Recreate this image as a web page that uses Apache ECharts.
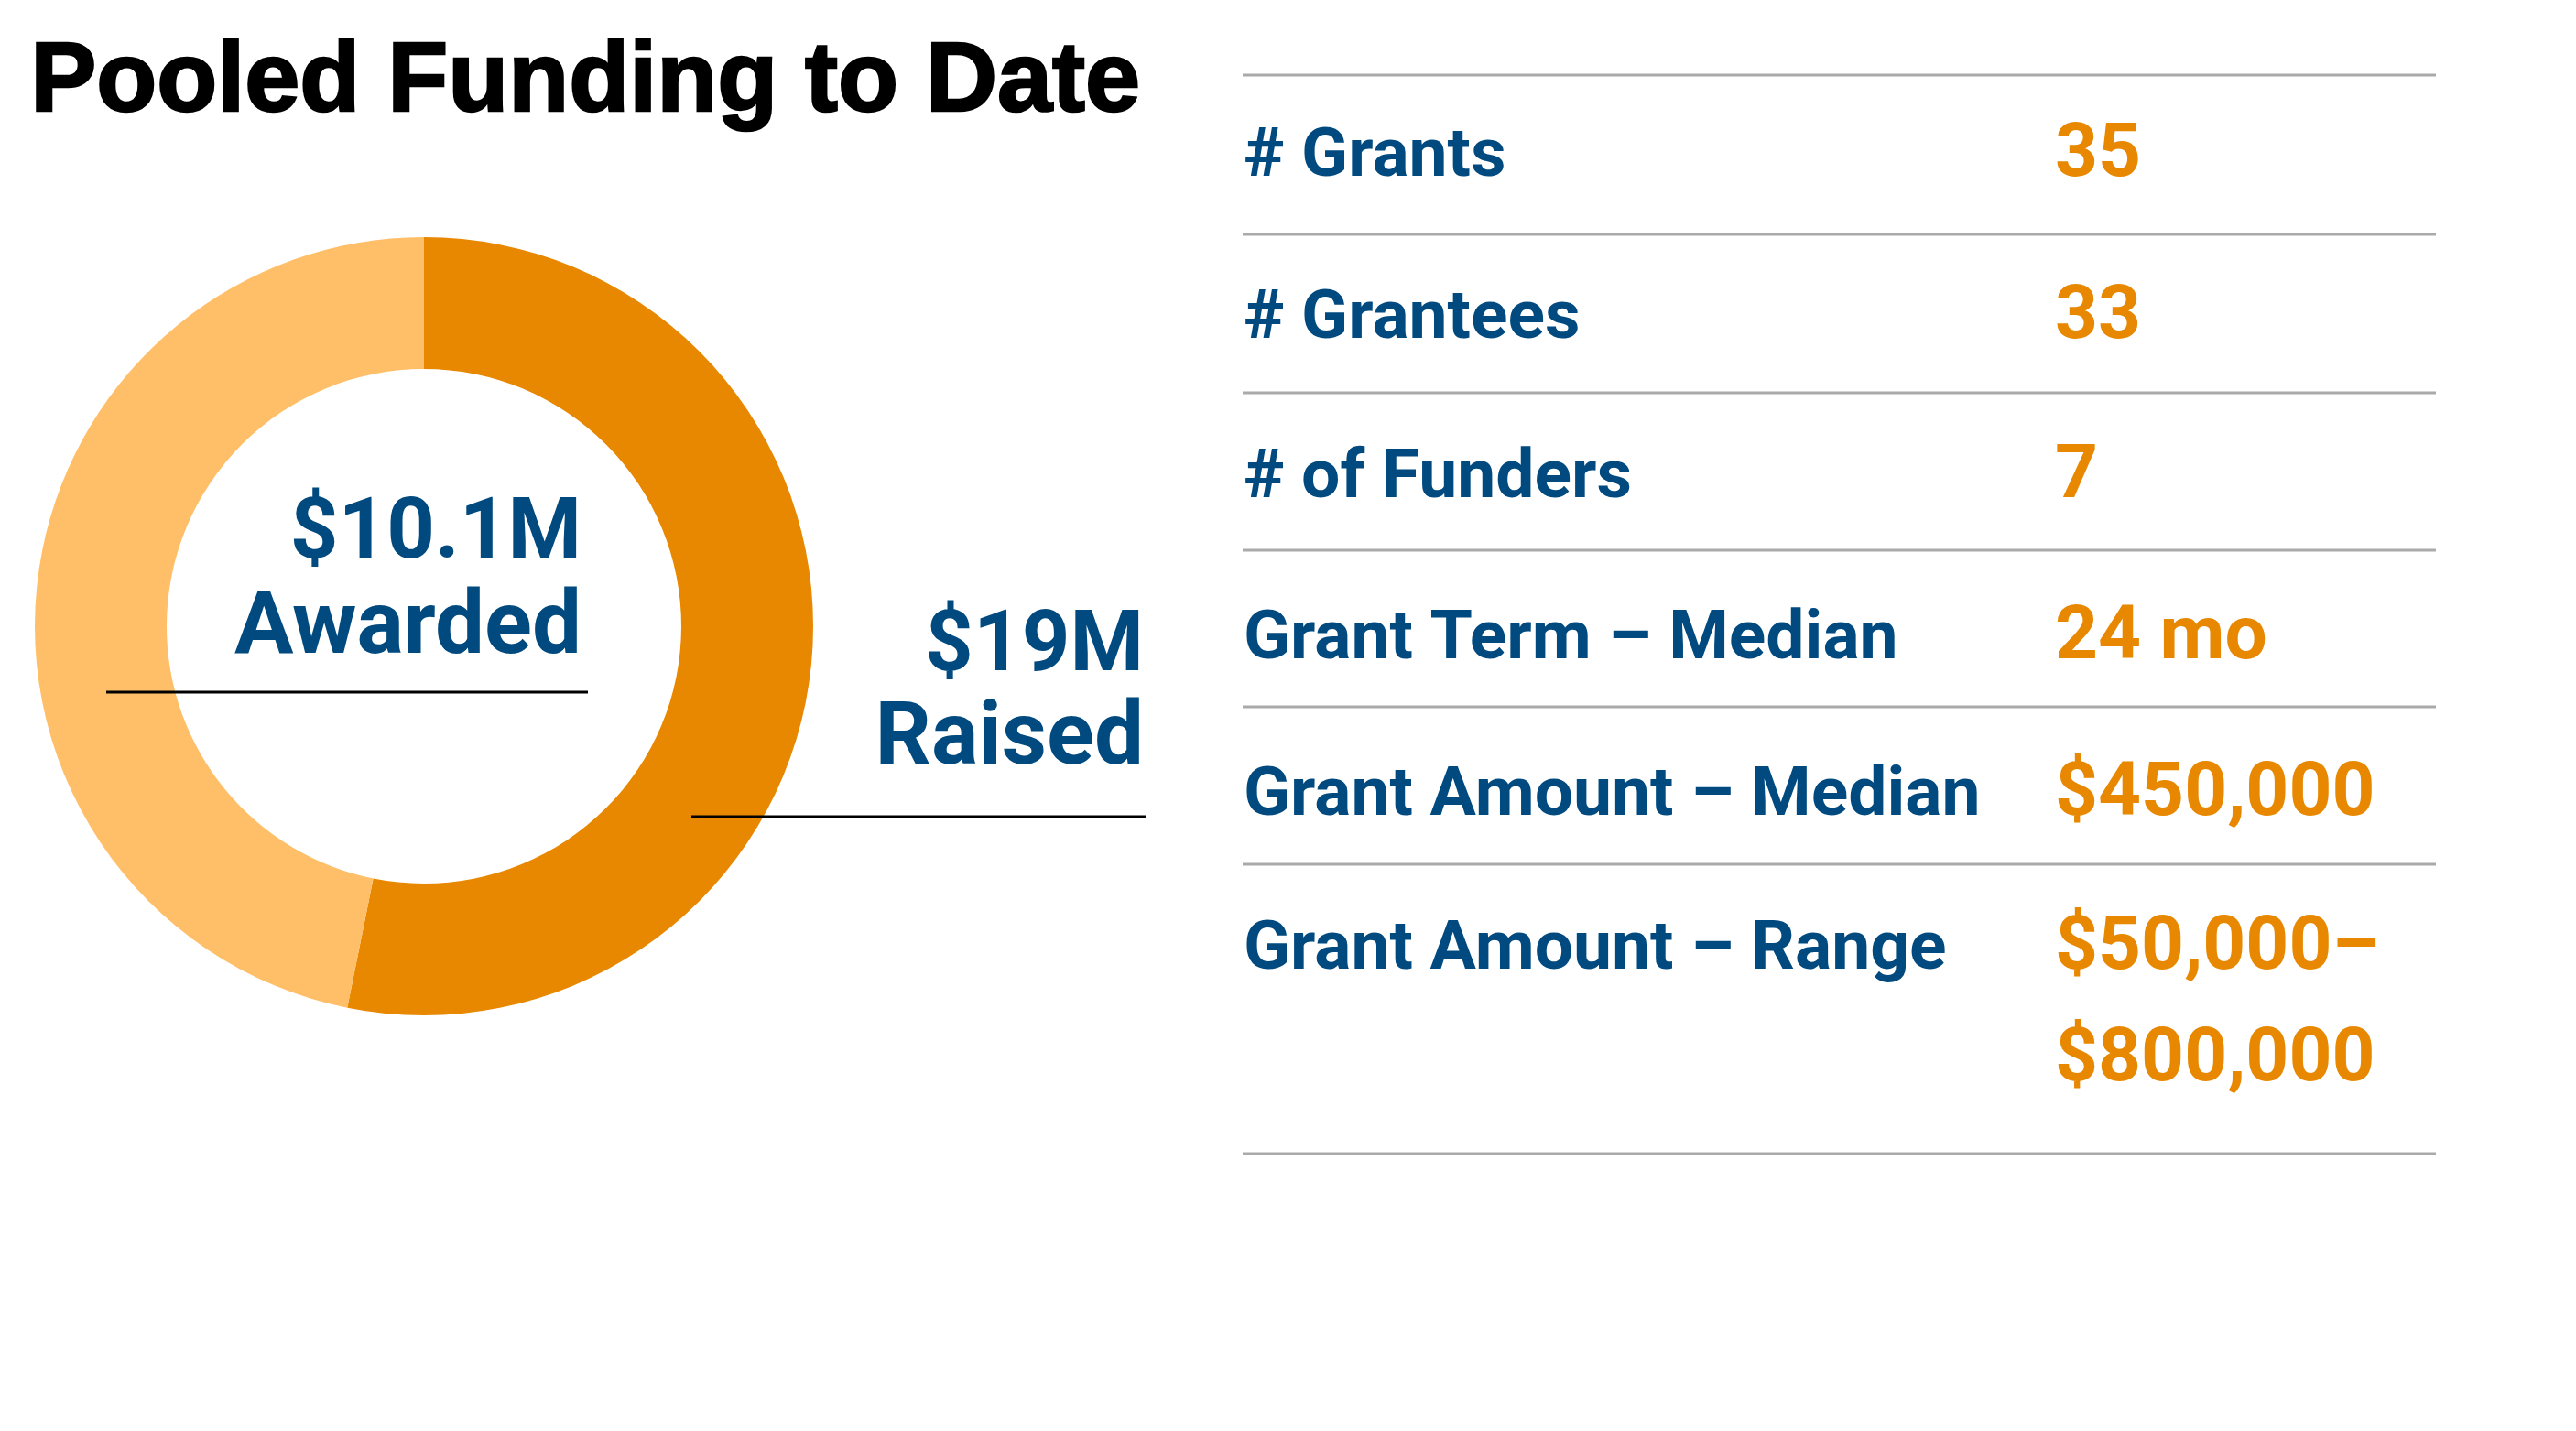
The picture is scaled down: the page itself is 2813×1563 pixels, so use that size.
<!DOCTYPE html>
<html>
<head>
<meta charset="utf-8">
<style>
html,body{margin:0;padding:0;background:#fff;}
#chart{width:2813px;height:1563px;}
</style>
<script src="https://cdn.jsdelivr.net/npm/echarts@6/dist/echarts.min.js"></script>
</head>
<body>
<div id="chart"></div>
<script>
// ---- data ----
var titleText = 'Pooled Funding to Date';
var fundingNames = ['Awarded', 'Not yet awarded'];
var awardedM = 10.1;
var raisedM = 19;
var fundingValues = [awardedM, +(raisedM - awardedM).toFixed(1)];
var awardedLabel = ['$10.1M', 'Awarded'];
var raisedLabel = ['$19M', 'Raised'];
var statLabels = ['# Grants', '# Grantees', '# of Funders', 'Grant Term \u2013 Median', 'Grant Amount \u2013 Median', 'Grant Amount \u2013 Range'];
var statValues = ['35', '33', '7', '24 mo', '$450,000', '$50,000\u2013\n$800,000'];

// ---- styles ----
var BLUE = '#004a7f';
var ORANGE = '#e88800';
var LIGHT = '#ffbf69';
var FONT = 'Roboto, "Noto Sans", sans-serif';

var chart = echarts.init(document.getElementById('chart'), null, {renderer: 'canvas'});

var graphics = [];
graphics.push({
  type: 'text', left: 32, top: 36,
  style: {text: titleText, font: 'bold 108px "Liberation Sans", Arial, sans-serif', fill: '#000', stroke: '#000', lineWidth: 2.5}
});

function txt(x, y, s, size, color, align) {
  graphics.push({
    type: 'text', x: x, y: y,
    style: {text: s, font: 'bold ' + size + 'px ' + FONT, fill: color, align: align || 'left', verticalAlign: 'middle'}
  });
}
function line(x1, y1, x2, y2, color, w) {
  graphics.push({type: 'line', shape: {x1: x1, y1: y1, x2: x2, y2: y2}, style: {stroke: color, lineWidth: w}, z: 10});
}

// donut labels
txt(635, 613 - 27, awardedLabel[0], 92, BLUE, 'right');
txt(635, 718 - 29, awardedLabel[1], 96, BLUE, 'right');
line(116, 756, 642, 756, '#000', 3);
txt(1249, 736 - 27, raisedLabel[0], 92, BLUE, 'right');
txt(1249, 839 - 29, raisedLabel[1], 96, BLUE, 'right');
line(755, 892, 1251, 892, '#000', 3);

// table
var rowLines = [82, 256, 429, 601, 772, 944, 1260];
var baselines = [196, 373, 547, 723, 894, 1062];
rowLines.forEach(function (y) { line(1357, y, 2660, y, '#aaaaaa', 3); });
statLabels.forEach(function (s, i) {
  txt(1358, baselines[i] - 23, s, 75, BLUE, 'left');
  statValues[i].split('\n').forEach(function (p, j) {
    txt(2244, baselines[i] - 25 + j * 122, p, 82, ORANGE, 'left');
  });
});

chart.setOption({
  backgroundColor: '#ffffff',
  animation: false,
  series: [{
    type: 'pie',
    center: [463, 684],
    radius: [281, 425],
    startAngle: 90,
    clockwise: true,
    silent: true,
    label: {show: false},
    labelLine: {show: false},
    itemStyle: {borderWidth: 0},
    emphasis: {disabled: true},
    data: fundingNames.map(function (n, i) {
      return {name: n, value: fundingValues[i], itemStyle: {color: i === 0 ? ORANGE : LIGHT}};
    })
  }],
  graphic: graphics
});
</script>
</body>
</html>
